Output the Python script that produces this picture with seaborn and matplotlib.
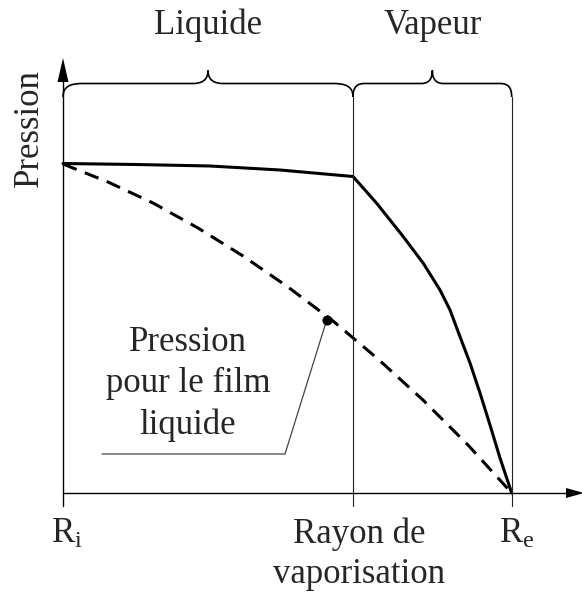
import matplotlib
matplotlib.use("Agg")
import matplotlib.pyplot as plt
import seaborn as sns
import pandas as pd
from matplotlib.path import Path
from matplotlib.patches import PathPatch, Polygon

# ---------------- data (arbitrary radial / pressure units) ----------------
R_i, R_v, R_e = 0.0, 290.0, 448.7
x_tick_pos = [R_i, R_v, R_e]
region_labels = ["Liquide", "Vapeur"]
y_label = "Pression"
annot_lines = ["Pression", "pour le film", "liquide"]

# total pressure (solid line): liquid part then vapour part
r_total = [0, 73, 147, 217, 290, 313.7, 340.3, 360.3, 377, 387, 397, 407, 417, 427, 437, 448.7]
p_total = [329.5, 328.5, 327, 323, 316.5, 289.7, 256.3, 229.7, 203, 183, 156.3, 130, 100, 68, 35, 0]

# pressure for the liquid film (dashed line)
r_film = [0, 45, 90, 135, 180, 225, 270, 315, 360, 405, 448.7]
p_film = [329, 311, 290, 265, 237, 206, 172, 134, 93, 48, 0]

film_point_r = [263.7]
film_point_p = [173]

# ---------------- style ----------------
sns.set_theme(style="white")
plt.rcParams["font.family"] = ["Liberation Serif", "DejaVu Serif"]
plt.rcParams["mathtext.fontset"] = "custom"
plt.rcParams["mathtext.rm"] = "Liberation Serif"
plt.rcParams["mathtext.it"] = "Liberation Serif:italic"

FS = 25
fig = plt.figure(figsize=(5.82, 5.95), dpi=100)
ax = fig.add_axes([0, 0, 1, 1])
ax.set_xlim(-63, 519)
ax.set_ylim(-102, 493)
ax.axis("off")

# ---------------- curves ----------------
df_tot = pd.DataFrame({"r": r_total, "p": p_total})
df_film = pd.DataFrame({"r": r_film, "p": p_film})
sns.lineplot(data=df_tot, x="r", y="p", ax=ax, color="black", lw=2.2,
             estimator=None, sort=False)
sns.lineplot(data=df_film, x="r", y="p", ax=ax, color="black", lw=2.2,
             estimator=None, sort=False, dashes=False)
ax.lines[-1].set_dashes((4.8, 2.9))
sns.scatterplot(x=film_point_r, y=film_point_p, ax=ax, color="black",
                s=45, edgecolor="black", zorder=5)

# ---------------- axes with arrows ----------------
ax.plot([R_i, 512], [0, 0], color="black", lw=1.0)
ax.plot([R_i, R_i], [-13, 415], color="black", lw=1.0)
ax.add_patch(Polygon([[503, -5], [503, 5], [521, 0]], closed=True,
                     color="black", lw=0))
ax.add_patch(Polygon([[-5.5, 411], [5.5, 411], [0, 435]], closed=True,
                     color="black", lw=0))

# vertical separators / ticks
for xv in [R_v, R_e]:
    ax.plot([xv, xv], [-13, 396], color="#222222", lw=0.8)

# ---------------- braces ----------------
def brace(x0, x1, y_end=396.0, y_h=409.5, y_tip=422.5, corner=20, tip=15):
    xm = (x0 + x1) / 2
    verts = [
        (x0, y_end), (x0, y_h - 3), (x0 + corner * 0.35, y_h), (x0 + corner, y_h),
        (xm - tip, y_h),
        (xm - tip * 0.45, y_h), (xm, y_h + 3), (xm, y_tip),
        (xm, y_h + 3), (xm + tip * 0.45, y_h), (xm + tip, y_h),
        (x1 - corner, y_h),
        (x1 - corner * 0.35, y_h), (x1, y_h - 3), (x1, y_end),
    ]
    codes = [Path.MOVETO, Path.CURVE4, Path.CURVE4, Path.CURVE4,
             Path.LINETO,
             Path.CURVE4, Path.CURVE4, Path.CURVE4,
             Path.CURVE4, Path.CURVE4, Path.CURVE4,
             Path.LINETO,
             Path.CURVE4, Path.CURVE4, Path.CURVE4]
    ax.add_patch(PathPatch(Path(verts, codes), fill=False, lw=1.2,
                           edgecolor="black"))

brace(R_i, R_v, corner=20, tip=15)
brace(R_v, R_e, corner=12, tip=11)

ax.text((R_i + R_v) / 2, 458.5, region_labels[0], ha="center", va="baseline", fontsize=FS)
ax.text((R_v + R_e) / 2, 458.5, region_labels[1], ha="center", va="baseline", fontsize=FS)

# ---------------- labels ----------------
ax.text(-25, 365, y_label, rotation=90, rotation_mode="anchor",
        ha="center", va="baseline", fontsize=FS)

ax.text(R_i + 4, -50, r"R$_{\mathrm{i}}$", ha="center", va="baseline", fontsize=FS)
ax.text(R_v + 6, -50, "Rayon de", ha="center", va="baseline", fontsize=FS)
ax.text(R_v + 6, -90, "vaporisation", ha="center", va="baseline", fontsize=FS)
ax.text(R_e + 5, -50, r"R$_{\mathrm{e}}$", ha="center", va="baseline", fontsize=FS)

# annotation for the film pressure
for txt, yb in zip(annot_lines, [142.3, 101.3, 59]):
    ax.text(125, yb, txt, ha="center", va="baseline", fontsize=FS)
ax.plot([39, 222, film_point_r[0]], [39, 39, film_point_p[0]],
        color="#444444", lw=0.9)

fig.savefig("out.png", dpi=100)
